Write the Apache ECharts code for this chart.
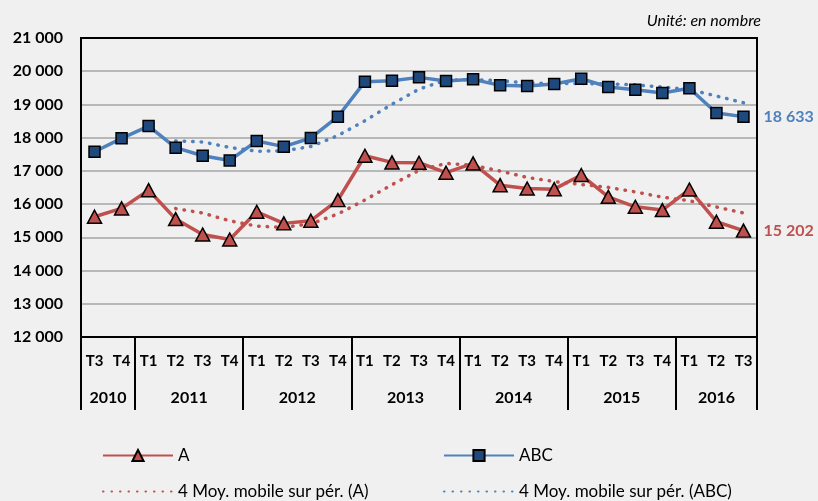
<!DOCTYPE html>
<html>
<head>
<meta charset="utf-8">
<script src="https://cdn.jsdelivr.net/npm/echarts@6/dist/echarts.min.js"></script>
<style>
html, body { margin: 0; padding: 0; background: #f0f0f0; }
#chart { width: 818px; height: 501px; }
</style>
</head>
<body>
<div id="chart"></div>
<script>
var trimestres = ['T3', 'T4',
    'T1', 'T2', 'T3', 'T4',
    'T1', 'T2', 'T3', 'T4',
    'T1', 'T2', 'T3', 'T4',
    'T1', 'T2', 'T3', 'T4',
    'T1', 'T2', 'T3', 'T4',
    'T1', 'T2', 'T3'];
var annees = ['2010', '2011', '2012', '2013', '2014', '2015', '2016'];
var nbTrim = [2, 4, 4, 4, 4, 4, 3];

var serieA = [15620, 15870, 16420, 15550, 15085, 14935, 15770, 15420, 15500, 16120, 17455, 17255, 17245,
    16945, 17225, 16570, 16470, 16450, 16875, 16220, 15920, 15820, 16440, 15470, 15202];
var serieABC = [17575, 17980, 18350, 17700, 17455, 17315, 17900, 17730, 17990, 18630, 19685, 19715, 19815,
    19705, 19755, 19575, 19555, 19615, 19775, 19525, 19445, 19345, 19485, 18740, 18633];
// moyennes mobiles
var moyA = ['-', '-', '-', 15865, 15731, 15498, 15335, 15303, 15406, 15703, 16124, 16583, 17019,
    17225, 17168, 16996, 16803, 16679, 16591, 16504, 16366, 16209, 16100, 15913, 15733];
var moyABC = ['-', '-', '-', 17901, 17871, 17705, 17593, 17600, 17734, 18063, 18509, 19005, 19461,
    19730, 19748, 19713, 19648, 19625, 19630, 19618, 19590, 19523, 19450, 19254, 19051];

var police = 'Lato, "Open Sans", sans-serif';

function fmt(v) {
    return String(v).replace(/\B(?=(\d{3})+(?!\d))/g, ' ');
}

// limites des annees (index de trimestre) + cases pour l'axe des annees
var limites = [];
var casesAnnee = [];
for (var k = 0; k <= 2 * trimestres.length; k++) {
    casesAnnee.push('');
}
var debut = 0;
for (var i = 0; i < annees.length; i++) {
    limites.push(debut);
    casesAnnee[2 * debut + nbTrim[i]] = annees[i];
    debut += nbTrim[i];
}

// une legende par entree (2 colonnes x 2 lignes)
function legende(nom, x, y, sansSymbole) {
    var item = { name: nom };
    if (sansSymbole) {
        item.itemStyle = { color: 'rgba(0,0,0,0)', borderColor: 'rgba(0,0,0,0)', borderWidth: 0 };
    }
    return {
        left: x,
        top: y,
        padding: 0,
        itemWidth: 70,
        itemHeight: 14,
        data: [item],
        textStyle: { fontFamily: police, fontSize: 17, color: '#000' }
    };
}

var dom = document.getElementById('chart');
var myChart = echarts.init(dom);

var option = {
    backgroundColor: '#f0f0f0',
    animation: false,
    title: {
        text: 'Unité: en nombre',
        right: 52,
        top: 8,
        textStyle: {
            fontFamily: police,
            fontSize: 16,
            fontStyle: 'italic',
            fontWeight: 'normal',
            color: '#000'
        }
    },
    legend: [
        legende('A', 102, 447, false),
        legende('ABC', 443, 447, false),
        legende('4 Moy. mobile sur pér. (A)', 102, 483, true),
        legende('4 Moy. mobile sur pér. (ABC)', 443, 483, true)
    ],
    grid: {
        left: 81,
        right: 61,
        top: 38,
        bottom: 164,
        show: true,
        z: 1,
        borderColor: '#000',
        borderWidth: 2,
        backgroundColor: 'transparent'
    },
    xAxis: [{
        type: 'category',
        data: trimestres,
        position: 'bottom',
        boundaryGap: true,
        axisLine: { lineStyle: { color: '#000', width: 2 } },
        axisTick: {
            show: true,
            length: 73,
            interval: function (index) {
                return limites.indexOf(index) >= 0;
            },
            lineStyle: { color: '#000', width: 2 }
        },
        axisLabel: {
            interval: 0,
            margin: 17,
            fontFamily: police,
            fontSize: 15,
            fontWeight: 'bold',
            color: '#000'
        },
        splitLine: { show: false }
    }, {
        type: 'category',
        data: casesAnnee,
        position: 'bottom',
        offset: 0,
        boundaryGap: false,
        axisLine: { show: false },
        axisTick: { show: false },
        axisLabel: {
            interval: 0,
            margin: 53,
            fontFamily: police,
            fontSize: 16,
            fontWeight: 'bold',
            color: '#000'
        },
        splitLine: { show: false }
    }],
    yAxis: {
        type: 'value',
        min: 12000,
        max: 21000,
        interval: 1000,
        axisLine: { show: true, lineStyle: { color: '#000', width: 2 } },
        axisTick: { show: false },
        axisLabel: {
            margin: 18,
            formatter: fmt,
            fontFamily: police,
            fontSize: 16,
            fontWeight: 'bold',
            color: '#000'
        },
        splitLine: { lineStyle: { color: '#a6a6a6', width: 1.5 } }
    },
    series: [{
        name: 'A',
        type: 'line',
        data: serieA,
        z: 4,
        symbol: 'triangle',
        symbolSize: [14, 13],
        color: '#C0504D',
        lineStyle: { color: '#C0504D', width: 3.5 },
        itemStyle: { color: '#C0504D', borderColor: '#000', borderWidth: 1.5 },
        endLabel: {
            show: true,
            distance: 20,
            formatter: function (p) { return fmt(p.value); },
            fontFamily: police,
            fontSize: 16,
            fontWeight: 'bold',
            color: '#C0504D'
        }
    }, {
        name: 'ABC',
        type: 'line',
        data: serieABC,
        z: 4,
        symbol: 'rect',
        symbolSize: 11,
        color: '#4F81BD',
        lineStyle: { color: '#4F81BD', width: 3.5 },
        itemStyle: { color: '#1F497D', borderColor: '#000', borderWidth: 1.5 },
        endLabel: {
            show: true,
            distance: 20,
            formatter: function (p) { return fmt(p.value); },
            fontFamily: police,
            fontSize: 16,
            fontWeight: 'bold',
            color: '#4F81BD'
        }
    }, {
        name: '4 Moy. mobile sur pér. (A)',
        type: 'line',
        data: moyA,
        z: 3,
        symbol: 'none',
        color: '#C0504D',
        lineStyle: { color: '#C0504D', width: 3.5, type: [0.5, 8], cap: 'round' }
    }, {
        name: '4 Moy. mobile sur pér. (ABC)',
        type: 'line',
        data: moyABC,
        z: 3,
        symbol: 'none',
        color: '#4F81BD',
        lineStyle: { color: '#4F81BD', width: 3.5, type: [0.5, 8], cap: 'round' }
    }]
};

if (option && typeof option === "object") {
    myChart.setOption(option, true);
}
</script>
</body>
</html>
